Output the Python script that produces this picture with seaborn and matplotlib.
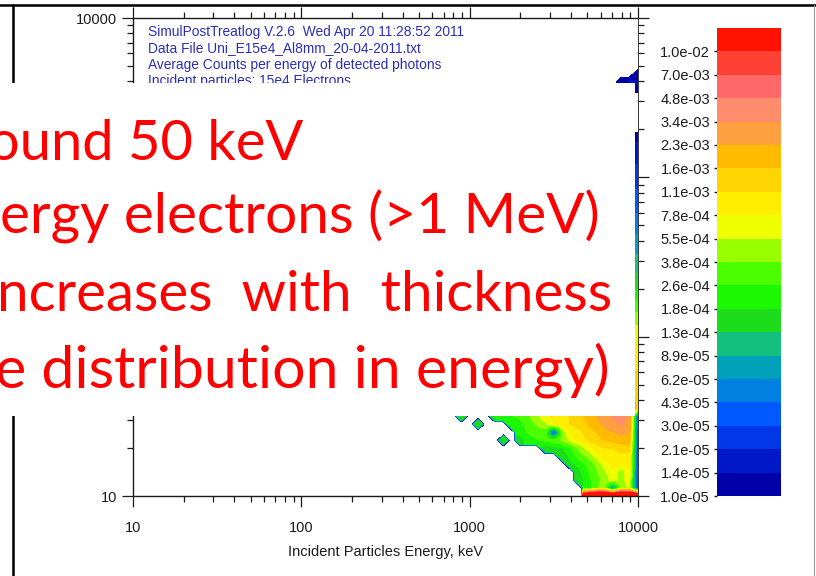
import numpy as np
import matplotlib
matplotlib.use("Agg")
import matplotlib.pyplot as plt
from matplotlib.colors import ListedColormap
from matplotlib.patches import Rectangle
from matplotlib.lines import Line2D
from matplotlib.ticker import LogLocator, NullFormatter, FixedLocator, FixedFormatter
import seaborn as sns

sns.set_style("ticks")
plt.rcParams["font.family"] = ["Liberation Sans", "DejaVu Sans"]

# ---------------------------------------------------------------- colour scale
band_edges = [1.0e-5, 1.4e-5, 2.1e-5, 3.0e-5, 4.3e-5, 6.2e-5, 8.9e-5,
              1.3e-4, 1.8e-4, 2.6e-4, 3.8e-4, 5.5e-4, 7.8e-4,
              1.1e-3, 1.6e-3, 2.3e-3, 3.4e-3, 4.8e-3, 7.0e-3, 1.0e-2]
band_colors = ["#0000a8", "#0018c8", "#0038e8", "#0058ff", "#0080e0",
               "#00a0b8", "#14c080", "#1cdc1c", "#1cf800", "#4cff00",
               "#99ff00", "#eeff00", "#ffee00", "#ffd500", "#ffbb00",
               "#ffa040", "#ff8c6a", "#ff6868", "#ff4035", "#ff1200"]

# ---------------------------------------------------------------- data grid
# log10 of incident energy (keV) for each column
incident_log = [2.85, 2.90, 2.95, 3.00, 3.05, 3.10, 3.15, 3.20, 3.25, 3.30,
                3.35, 3.40, 3.45, 3.50, 3.55, 3.60, 3.65, 3.70, 3.75, 3.80,
                3.85, 3.90, 3.95, 4.00]

# log10 of detected photon energy (keV), low-energy block
photon_log_low = [1.00, 1.05, 1.10, 1.15, 1.20, 1.25, 1.30, 1.35, 1.40,
                  1.45, 1.50, 1.55]

E = None  # no detected photons
# log10(average counts per keV), one row per photon energy above
log_counts_low = [
    [E, E, E, E, E, E, E, E, E, E, E, E, E, E, E, E, E, -1.0, -0.8, -0.8, -0.8, -0.8, -0.8, -1.0],
    [E, E, E, E, E, E, E, E, E, E, E, E, E, E, E, E, E, -3.7, -3.45, -3.35, -4.3, -3.3, -3.25, -4.6],
    [E, E, E, E, E, E, E, E, E, E, E, E, E, E, E, E, -3.85, -3.65, -3.5, -3.35, -3.2, -3.3, -3.2, -4.6],
    [E, E, E, E, E, E, E, E, E, E, E, E, E, E, E, E, -3.8, -3.6, -3.45, -3.3, -3.15, -3.35, -3.1, -4.6],
    [E, E, E, E, E, E, E, E, E, E, E, E, E, E, E, -3.8, -3.7, -3.55, -3.4, -3.2, -3.05, -3.1, -3.0, -4.6],
    [E, E, E, E, E, E, E, E, E, E, E, E, E, E, -3.85, -3.7, -3.5, -3.4, -3.2, -3.05, -3.05, -3.0, -3.0, -4.6],
    [E, E, E, E, E, E, E, E, E, E, E, E, -3.85, -3.8, -3.75, -3.6, -3.4, -3.2, -3.05, -2.95, -2.95, -2.9, -2.9, -4.6],
    [E, E, E, E, E, E, E, -3.85, E, -3.8, -3.7, -3.6, -3.55, -3.5, -3.4, -3.2, -3.05, -2.95, -2.85, -2.8, -2.75, -2.7, -2.7, -4.6],
    [E, E, E, E, E, E, E, E, E, -3.7, -3.55, -3.5, -3.5, -4.6, -3.4, -3.1, -3.0, -2.9, -2.8, -2.7, -2.65, -2.6, -2.65, -4.6],
    [E, E, E, E, -3.85, E, E, E, -3.75, -3.65, -3.5, -3.4, -3.3, -3.1, -3.0, -2.95, -2.9, -2.8, -2.7, -2.6, -2.5, -2.45, -2.55, -4.6],
    [E, E, -3.85, E, E, E, -3.75, -3.7, -3.6, -3.55, -3.45, -3.3, -3.15, -3.05, -3.0, -2.95, -2.85, -2.75, -2.65, -2.55, -2.45, -2.42, -2.5, -4.6],
    [E, E, E, E, E, -3.85, -3.7, -3.6, -3.5, -3.45, -3.35, -3.2, -3.1, -3.0, -2.95, -2.9, -2.8, -2.7, -2.6, -2.5, -2.45, -2.45, -2.5, -2.85],
]

# high-energy photons: only the highest incident energies (last two columns)
photon_log_edge = [1.65, 1.90, 2.10, 2.30, 2.55, 2.80, 3.00, 3.20, 3.40]
log_counts_edge = [-2.9, -3.0, -3.3, -3.75, -4.1, -4.4, -4.6, -4.8, -5.3]

# top corner, columns 3.80 ... 4.00
photon_log_corner = [3.60, 3.65, 3.70]
log_counts_corner = [
    [E, E, -4.9, -4.85, -4.85],
    [E, E, E, E, -4.9],
    [E, E, E, E, E],
]

# ---------------------------------------------------------------- assemble grid
photon_log = photon_log_low + photon_log_edge + photon_log_corner
lx = np.array(incident_log)
ly = np.array(photon_log)
raw = np.full((len(ly), len(lx)), np.nan)
n_low = len(photon_log_low)
raw[:n_low] = np.array(log_counts_low, dtype=float)
for i, v in enumerate(log_counts_edge):
    raw[n_low + i, -2:] = v
n_corner0 = n_low + len(photon_log_edge)
raw[n_corner0:, -5:] = np.array(log_counts_corner, dtype=float)

# empty nodes take the mean of their occupied neighbours so colours run
# right up to the edge of the occupied region
occupied = ~np.isnan(raw)
filled = raw.copy()
for r in range(raw.shape[0]):
    for c in range(raw.shape[1]):
        if occupied[r, c]:
            continue
        nb = [raw[rr, cc] for rr, cc in ((r - 1, c), (r + 1, c), (r, c - 1), (r, c + 1))
              if 0 <= rr < raw.shape[0] and 0 <= cc < raw.shape[1] and occupied[rr, cc]]
        filled[r, c] = np.mean(nb) if nb else -6.0

fine_x = np.arange(lx[0], lx[-1] + 1e-9, 0.0125)
fine_y = np.arange(ly[0], ly[-1] + 1e-9, 0.0125)


def resample(a):
    rows = np.array([np.interp(fine_x, lx, row) for row in a])
    return np.array([np.interp(fine_y, ly, rows[:, j]) for j in range(len(fine_x))]).T


fine_val = resample(filled)
fine_occ = resample(occupied.astype(float))
Z = np.where(fine_occ >= 0.4, fine_val, -5.3)

X = 10.0 ** fine_x
Y = 10.0 ** fine_y
levels = list(np.log10(band_edges)) + [0.0]

# ---------------------------------------------------------------- figure
W, H = 816, 576
fig = plt.figure(figsize=(W / 100, H / 100), dpi=100)
fig.patch.set_facecolor("white")


def px_axes(x0, y0, x1, y1, **kw):
    """Axes from a pixel box (top-left origin)."""
    return fig.add_axes([x0 / W, 1 - y1 / H, (x1 - x0) / W, (y1 - y0) / H], **kw)


ax = px_axes(133, 18, 638, 496)
ax.contourf(X, Y, Z, levels=levels, colors=band_colors)
ax.set_xscale("log")
ax.set_yscale("log")
ax.set_xlim(10, 10000)
ax.set_ylim(10, 10000)

ink = "#1c1c1c"
major = [10, 100, 1000, 10000]
major_labels = ["10", "100", "1000", "10000"]
for axis in (ax.xaxis, ax.yaxis):
    axis.set_major_locator(FixedLocator(major))
    axis.set_major_formatter(FixedFormatter(major_labels))
    axis.set_minor_locator(LogLocator(base=10, subs=np.arange(2, 10), numticks=20))
    axis.set_minor_formatter(NullFormatter())

ax.tick_params(which="both", direction="out", top=True, right=True,
               color=ink, width=0.9, labelcolor=ink, labelsize=10.5)
ax.tick_params(which="major", length=8.2)
ax.tick_params(which="minor", length=4.0)
ax.tick_params(axis="x", which="major", pad=10)
ax.tick_params(axis="y", which="major", pad=3.5)
for sp in ax.spines.values():
    sp.set_color(ink)
    sp.set_linewidth(1.0)
ax.spines["right"].set_linewidth(0.6)
ax.set_xlabel("Incident Particles Energy, keV", fontsize=10.5, color=ink, labelpad=7)

# ---------------------------------------------------------------- colour bar
cax = px_axes(717, 28, 781, 496)
band_index = np.arange(len(band_colors))[::-1].reshape(-1, 1)
sns.heatmap(band_index, cmap=ListedColormap(band_colors), vmin=-0.5,
            vmax=len(band_colors) - 0.5, cbar=False, ax=cax,
            xticklabels=False, yticklabels=False)
n = len(band_edges)
cax.set_yticks(np.arange(1, n + 1))
cax.set_yticklabels([f"{band_edges[n - k]:.1e}" for k in range(1, n + 1)])
cax.yaxis.set_ticks_position("left")
cax.tick_params(axis="y", length=2, width=1, pad=3, labelsize=10.5,
                colors=ink, labelrotation=0)
cax.tick_params(axis="x", length=0)
for sp in cax.spines.values():
    sp.set_visible(False)

# ---------------------------------------------------------------- page overlay
ov = fig.add_axes([0, 0, 1, 1], zorder=10)
ov.set_xlim(0, W)
ov.set_ylim(H, 0)
ov.axis("off")
ov.patch.set_alpha(0)

header = ["SimulPostTreatlog V.2.6  Wed Apr 20 11:28:52 2011",
          "Data File Uni_E15e4_Al8mm_20-04-2011.txt",
          "Average Counts per energy of detected photons",
          "Incident particles: 15e4 Electrons"]
for i, line in enumerate(header):
    ov.text(148, 36 + 16.4 * i, line, fontsize=9.9, color="#2d2db8",
            va="baseline", ha="left", zorder=1)

# slide frame
ov.add_line(Line2D([0, W], [5, 5], color="black", lw=1.8, zorder=1))
ov.add_line(Line2D([13, 13], [5, H], color="black", lw=1.8, zorder=1))
ov.add_line(Line2D([813.5, 813.5], [5, H], color="#9a9a9a", lw=0.8, zorder=1))

# text box
ov.add_patch(Rectangle((0, 83), 635, 333, facecolor="white", edgecolor="none", zorder=2))

notes = ["ound 50 keV",
         "ergy electrons (>1 MeV)",
         "ncreases  with  thickness",
         "e distribution in energy)"]
note_left = [-12, 0, -2, -5]
note_right = [303, 600, 612, 610]
note_base = [160, 234, 311, 388]
note_font = ["Lato", "DejaVu Sans"]

renderer = fig.canvas.get_renderer()
for txt, xl, xr, yb in zip(notes, note_left, note_right, note_base):
    probe = ov.text(0, 0, txt, fontsize=40, family=note_font)
    w = probe.get_window_extent(renderer).width
    probe.remove()
    ov.text(xr, yb, txt, fontsize=40 * (xr - xl) / w, family=note_font,
            color="#ff0000", ha="right", va="baseline", zorder=3)

fig.savefig("out.png", dpi=100, facecolor="white")
